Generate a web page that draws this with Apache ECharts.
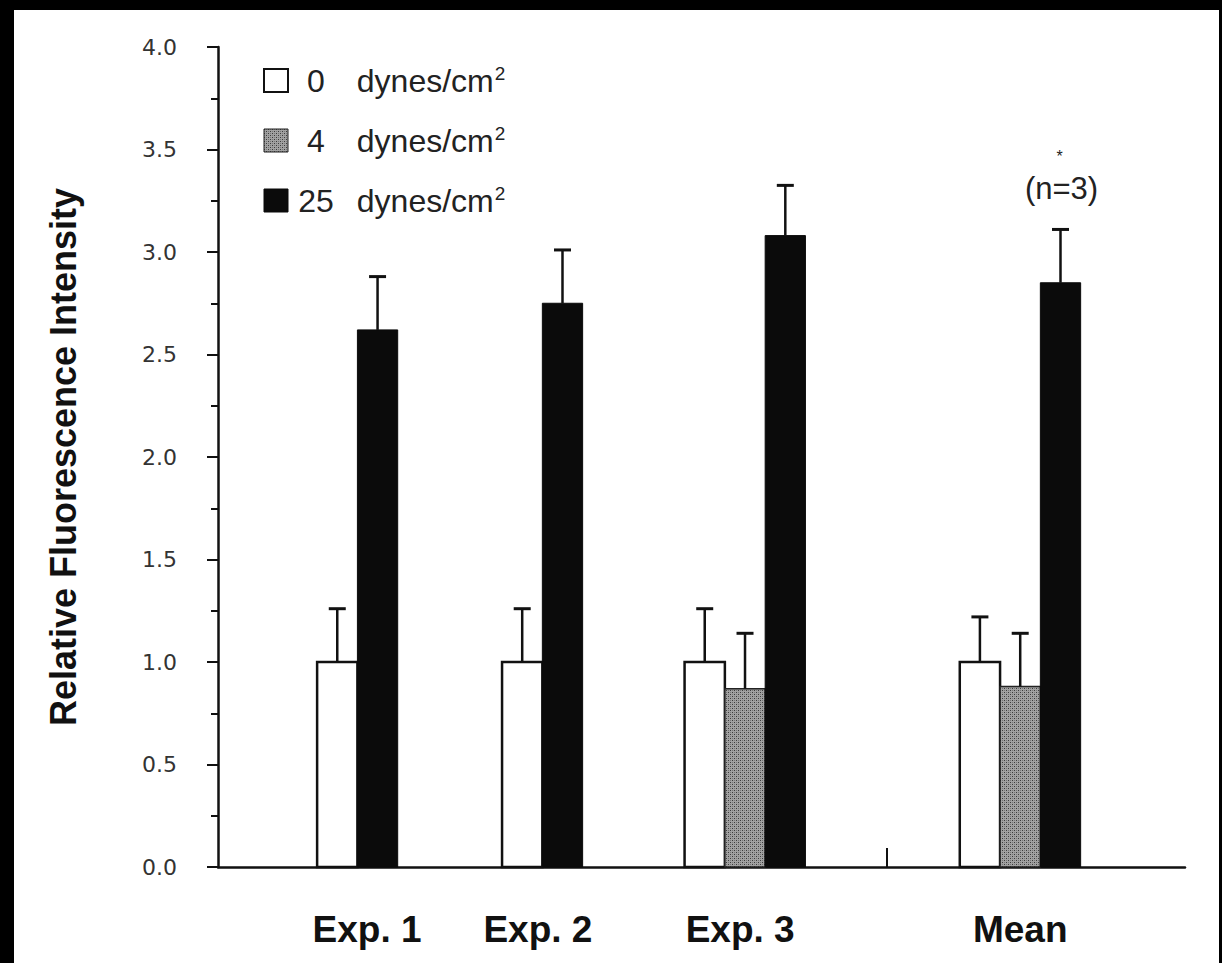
<!DOCTYPE html>
<html>
<head>
<meta charset="utf-8">
<script src="https://cdn.jsdelivr.net/npm/echarts@6/dist/echarts.min.js"></script>
<style>
  html, body { margin: 0; padding: 0; background: #fff; }
  #chart { width: 1222px; height: 963px; }
</style>
</head>
<body>
<div id="chart"></div>
<script>
// ---- data ----
const categories = ['Exp. 1', 'Exp. 2', 'Exp. 3', 'Mean'];
const seriesNames = ['0 dynes/cm2', '4 dynes/cm2', '25 dynes/cm2'];
const shearLabels = ['0', '4', '25'];
const shear0 = [1.00, 1.00, 1.00, 1.00];
const shear4 = [null, null, 0.87, 0.88];
const shear25 = [2.62, 2.75, 3.08, 2.85];
const err0 = [0.26, 0.26, 0.26, 0.22];
const err4 = [null, null, 0.27, 0.26];
const err25 = [0.26, 0.26, 0.245, 0.26];
const annotStar = ['', '', '', '*'];
const annotN = ['', '', '', '(n=3)'];
const yTickValues = [0, 0.5, 1, 1.5, 2, 2.5, 3, 3.5, 4];

// ---- layout (axis units along a hidden value x-axis) ----
const xMax = 24;
const barUnit = 1;
const groupCenter = [3.46, 8.05, 13.08, 19.91];
const labelCenter = [3.70, 7.94, 12.96, 19.91];
const separatorX = (groupCenter[2] + groupCenter[3]) / 2 + 0.1;

const levelValues = [shear0, shear4, shear25];
const levelErrors = [err0, err4, err25];

// dotted grey halftone pattern
function makePattern() {
  const c = document.createElement('canvas');
  c.width = 4; c.height = 4;
  const ctx = c.getContext('2d');
  ctx.fillStyle = '#a2a2a2';
  ctx.fillRect(0, 0, 4, 4);
  ctx.fillStyle = '#3c3c3c';
  ctx.fillRect(0, 0, 1, 1);
  ctx.fillRect(2, 2, 1, 1);
  ctx.fillStyle = '#777';
  ctx.fillRect(2, 0, 1, 1);
  ctx.fillRect(0, 2, 1, 1);
  return c.toDataURL();
}
const greyPattern = { image: makePattern(), repeat: 'repeat', imageWidth: 4, imageHeight: 4 };

const fills = [
  { color: '#ffffff', borderColor: '#111', borderWidth: 2.5 },
  { color: greyPattern, borderColor: '#222', borderWidth: 1.5 },
  { color: '#0b0b0b', borderColor: '#0b0b0b', borderWidth: 1 }
];

const FONT = '"Liberation Sans", Arial, Helvetica, sans-serif';

function makeBarSeries(level) {
  const vals = levelValues[level], errs = levelErrors[level];
  const data = [];
  vals.forEach((v, i) => { if (v != null) data.push([i, v, errs[i]]); });
  return {
    type: 'custom',
    name: seriesNames[level],
    coordinateSystem: 'cartesian2d',
    encode: { x: 0, y: 1 },
    itemStyle: fills[level],
    z: 2 + level,
    silent: true,
    data: data,
    renderItem: function (params, api) {
      const g = api.value(0), v = api.value(1), e = api.value(2);
      const present = [0, 1, 2].filter(l => levelValues[l][g] != null);
      const slot = present.indexOf(level), n = present.length;
      const x0 = groupCenter[g] + (slot - n / 2) * barUnit;
      const p0 = api.coord([x0, 0]);
      const p1 = api.coord([x0 + barUnit, v]);
      const pe = api.coord([x0 + barUnit / 2, v + e]);
      const f = fills[level];
      const children = [
        {
          type: 'rect',
          shape: { x: p0[0], y: p1[1], width: p1[0] - p0[0], height: p0[1] - p1[1] },
          style: { fill: f.color, stroke: f.borderColor, lineWidth: f.borderWidth }
        },
        {
          type: 'line',
          shape: { x1: pe[0], y1: p1[1], x2: pe[0], y2: pe[1] },
          style: { stroke: '#111', lineWidth: 2.5 }
        },
        {
          type: 'line',
          shape: { x1: pe[0] - 8.5, y1: pe[1], x2: pe[0] + 8.5, y2: pe[1] },
          style: { stroke: '#111', lineWidth: 3 }
        }
      ];
      if (level === 2 && annotN[g]) {
        children.push({
          type: 'text',
          style: {
            text: annotN[g], x: pe[0] + 1, y: pe[1] - 41, align: 'center', verticalAlign: 'middle',
            fontSize: 31, fontFamily: FONT, fill: '#222'
          }
        });
      }
      if (level === 2 && annotStar[g]) {
        children.push({
          type: 'text',
          style: {
            text: annotStar[g], x: pe[0] - 1, y: pe[1] - 73, align: 'center', verticalAlign: 'middle',
            fontSize: 16, fontFamily: FONT, fill: '#222'
          }
        });
      }
      return { type: 'group', children: children };
    }
  };
}

const chart = echarts.init(document.getElementById('chart'), null, { renderer: 'svg' });

const option = {
  backgroundColor: '#ffffff',
  animation: false,
  grid: { left: 218, right: 37, top: 47, bottom: 96, containLabel: false },
  legend: {
    orient: 'vertical',
    left: 258,
    top: 59,
    itemWidth: 24,
    itemHeight: 23,
    itemGap: 27,
    icon: 'rect',
    selectedMode: false,
    data: seriesNames.map((name, i) => ({
      name: name,
      itemStyle: { color: fills[i].color, borderColor: i === 0 ? '#111' : fills[i].borderColor, borderWidth: i === 0 ? 2 : 1 }
    })),
    formatter: function (name) {
      const i = seriesNames.indexOf(name);
      return '{n|' + shearLabels[i] + '}{t|  dynes/cm}{s|2}';
    },
    textStyle: {
      fontFamily: FONT,
      color: '#222',
      rich: {
        n: { fontSize: 32, fontFamily: FONT, color: '#222', width: 46, align: 'right', lineHeight: 33 },
        t: { fontSize: 32, fontFamily: FONT, color: '#222', lineHeight: 33 },
        s: { fontSize: 19, fontFamily: FONT, color: '#222', lineHeight: 33, padding: [0, 0, 14, 1] }
      }
    }
  },
  xAxis: {
    type: 'value',
    min: 0,
    max: xMax,
    splitLine: { show: false },
    axisLine: { show: true, onZero: true, lineStyle: { color: '#111', width: 2.5 } },
    axisTick: { show: true, inside: true, length: 19, customValues: [separatorX], lineStyle: { color: '#111', width: 2 } },
    axisLabel: {
      show: true,
      customValues: labelCenter,
      margin: 44,
      formatter: function (value, index) {
        const i = labelCenter.indexOf(value);
        return categories[i >= 0 ? i : index];
      },
      fontFamily: FONT,
      fontSize: 37,
      fontWeight: 'bold',
      color: '#111'
    }
  },
  yAxis: {
    type: 'value',
    min: 0,
    max: 4,
    interval: 0.5,
    name: 'Relative Fluorescence Intensity',
    nameLocation: 'middle',
    nameGap: 137,
    nameTextStyle: { fontFamily: FONT, fontSize: 36, fontWeight: 'bold', color: '#111' },
    splitLine: { show: false },
    axisLine: { show: true, lineStyle: { color: '#111', width: 2.5 } },
    axisTick: { show: true, length: 11, lineStyle: { color: '#111', width: 2 } },
    minorTick: { show: true, splitNumber: 2, length: 7, lineStyle: { color: '#111', width: 2 } },
    axisLabel: {
      margin: 41,
      fontFamily: '"DejaVu Sans", sans-serif',
      fontSize: 22,
      color: '#333',
      formatter: function (v) { return yTickValues.indexOf(v) >= 0 ? v.toFixed(1) : ''; }
    }
  },
  graphic: [
    { type: 'rect', left: 0, top: 0, shape: { width: 1222, height: 10 }, style: { fill: '#000' }, z: 100 },
    { type: 'rect', left: 0, top: 0, shape: { width: 14, height: 963 }, style: { fill: '#000' }, z: 100 },
    { type: 'rect', left: 1219, top: 0, shape: { width: 3, height: 963 }, style: { fill: '#000' }, z: 100 }
  ],
  series: [makeBarSeries(0), makeBarSeries(1), makeBarSeries(2)]
};

chart.setOption(option);
</script>
</body>
</html>
